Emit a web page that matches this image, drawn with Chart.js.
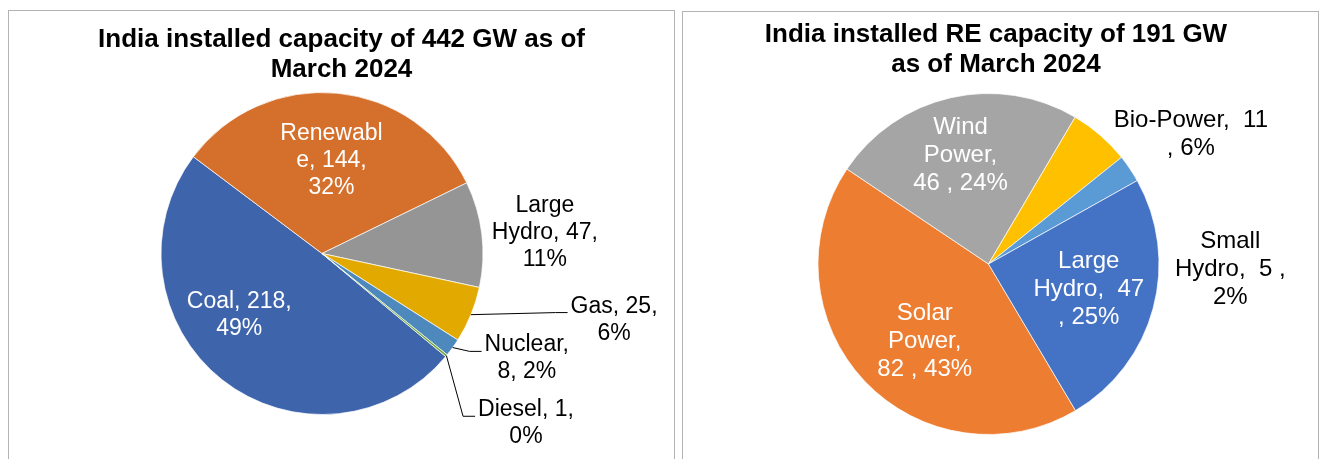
<!DOCTYPE html>
<html>
<head>
<meta charset="utf-8">
<script src="https://cdn.jsdelivr.net/npm/chart.js@4/dist/chart.umd.min.js"></script>
<style>
  body { margin:0; background:#fff; width:1325px; height:459px; overflow:hidden; position:relative; }
  .panel { position:absolute; border:1px solid #b3b3b3; height:470px; }
  #p1 { left:8px; top:10px; width:665px; }
  #p2 { left:682px; top:11px; width:635px; }
  .panel canvas { position:absolute; left:0; top:0; }
  .title { position:absolute; left:0; width:100%; box-sizing:border-box; text-align:center;
           font:bold 26px/30px "Liberation Sans", Arial, sans-serif; color:#000; }
  #t1 { top:12px; }
  #t2 { top:6px; padding-right:9px; }
</style>
</head>
<body>
<div class="panel" id="p1">
  <canvas id="mix" width="665" height="460"></canvas>
  <div class="title" id="t1">India installed capacity of 442 GW as of<br>March 2024</div>
</div>
<div class="panel" id="p2">
  <canvas id="re" width="635" height="460"></canvas>
  <div class="title" id="t2">India installed RE capacity of 191 GW<br>as of March 2024</div>
</div>
<script>
// total installed capacity (GW)
const mixCategories = ['Coal', 'Renewable', 'Large Hydro', 'Gas', 'Nuclear', 'Diesel'];
const mixValues = [218, 144, 47, 25, 8, 1];
const mixColors = ['#3e64ab', '#d4702c', '#959595', '#e2aa00', '#4e89be', '#72a83f'];
const mixLabelLines = [
  ['Coal, 218,', '49%'],
  ['Renewabl', 'e, 144,', '32%'],
  ['Large', 'Hydro, 47,', '11%'],
  ['Gas, 25,', '6%'],
  ['Nuclear,', '8, 2%'],
  ['Diesel, 1,', '0%']
];

// renewable breakdown (GW)
const reCategories = ['Solar Power', 'Wind Power', 'Bio-Power', 'Small Hydro', 'Large Hydro'];
const reValues = [82, 46, 11, 5, 47];
const reColors = ['#ed7d31', '#a5a5a5', '#ffc000', '#5b9bd5', '#4472c4'];
const reLabelLines = [
  ['Solar', 'Power,', '82 , 43%'],
  ['Wind', 'Power,', '46 , 24%'],
  ['Bio-Power,  11', ', 6%'],
  ['Small', 'Hydro,  5 ,', '2%'],
  ['Large', 'Hydro,  47', ', 25%']
];

// draws Excel-like data labels, placed relative to the pie centre / radius
const sliceLabels = {
  id: 'sliceLabels',
  afterDatasetsDraw(chart, args, opts) {
    const ctx = chart.ctx;
    const arcs = chart.getDatasetMeta(0).data;
    ctx.save();
    ctx.font = opts.size + 'px "Liberation Sans", Arial, sans-serif';
    ctx.textAlign = 'center';
    ctx.textBaseline = 'alphabetic';
    arcs.forEach((arc, i) => {
      const lines = opts.lines[i];
      const spot = opts.spots[i];
      const r = arc.outerRadius;
      const x = arc.x + spot[0] * r;
      const y = arc.y + spot[1] * r;
      if (opts.leaders[i]) {
        const mid = (arc.startAngle + arc.endAngle) / 2;
        const sx = arc.x + Math.cos(mid) * r;
        const sy = arc.y + Math.sin(mid) * r;
        const left = x - ctx.measureText(lines[0]).width / 2;
        ctx.strokeStyle = '#000';
        ctx.lineWidth = 1;
        ctx.beginPath();
        ctx.moveTo(sx, sy);
        ctx.lineTo(left - 15, y);
        ctx.lineTo(left - 3, y);
        ctx.stroke();
      }
      ctx.fillStyle = opts.colors[i];
      lines.forEach((t, k) => ctx.fillText(t, x, y + k * opts.lineHeight));
    });
    ctx.restore();
  }
};

function makePie(id, labels, values, colors, rotation, padding, labelOpts) {
  return new Chart(document.getElementById(id), {
    type: 'pie',
    data: {
      labels,
      datasets: [{ data: values, backgroundColor: colors, borderColor: 'rgba(255,255,255,0.7)', borderWidth: 1 }]
    },
    options: {
      responsive: false,
      animation: false,
      rotation,
      layout: { padding },
      plugins: { legend: { display: false }, tooltip: { enabled: false }, sliceLabels: labelOpts }
    },
    plugins: [sliceLabels]
  });
}

makePie('mix', mixCategories, mixValues, mixColors, 129.8,
  { left: 151.5, right: 190.5, top: 81, bottom: 56 },
  {
    size: 23, lineHeight: 27, lines: mixLabelLines,
    colors: ['#fff', '#fff', '#000', '#000', '#000', '#000'],
    leaders: [false, false, false, true, true, true],
    spots: [[-0.514, 0.339], [0.059, -0.703], [1.384, -0.259], [1.814, 0.367], [1.272, 0.608], [1.267, 1.011]]
  });

makePie('re', reCategories, reValues, reColors, 149.3,
  { left: 134.5, right: 158.5, top: 81, bottom: 37 },
  {
    size: 24, lineHeight: 28, lines: reLabelLines,
    colors: ['#fff', '#fff', '#000', '#000', '#fff'],
    leaders: [false, false, false, false, false],
    spots: [[-0.374, 0.327], [-0.164, -0.764], [1.187, -0.801], [1.418, -0.094], [0.588, 0.023]]
  });
</script>
</body>
</html>
